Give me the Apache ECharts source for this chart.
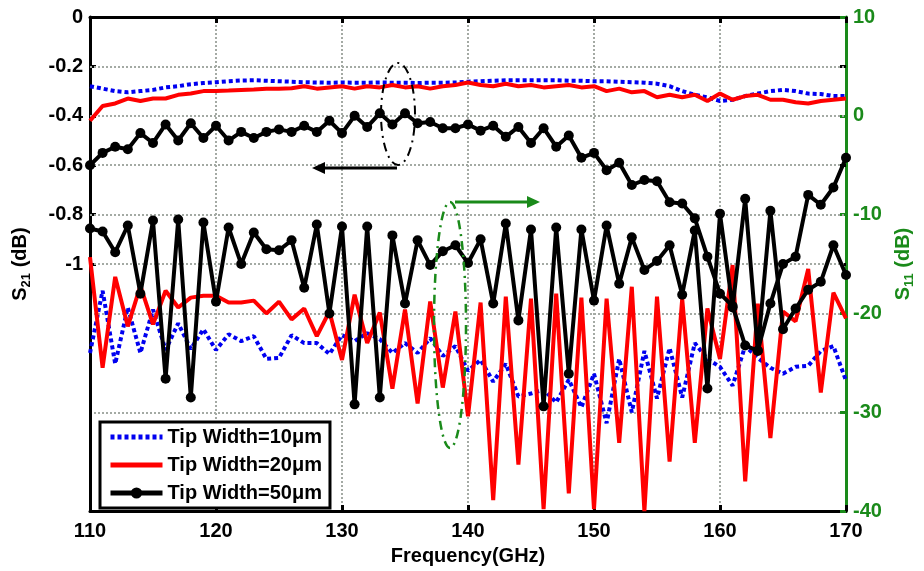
<!DOCTYPE html>
<html><head><meta charset="utf-8">
<script src="https://cdn.jsdelivr.net/npm/echarts@6/dist/echarts.min.js"></script>
<style>html,body{margin:0;padding:0;background:#fff}#c{width:924px;height:571px}</style>
</head><body><div id="c"></div>
<script>
// Frequency (GHz)
const freq = [110,111,112,113,114,115,116,117,118,119,120,121,122,123,124,125,126,127,128,129,130,
  131,132,133,134,135,136,137,138,139,140,141,142,143,144,145,146,147,148,149,150,
  151,152,153,154,155,156,157,158,159,160,161,162,163,164,165,166,167,168,169,170];

// S21 (dB), left axis
const s21_10 = [-0.28,-0.29,-0.30,-0.305,-0.30,-0.295,-0.285,-0.28,-0.272,-0.267,-0.264,-0.26,-0.257,-0.256,-0.258,-0.26,-0.262,-0.264,-0.265,-0.266,-0.265,
  -0.266,-0.266,-0.265,-0.266,-0.266,-0.267,-0.266,-0.266,-0.265,-0.262,-0.26,-0.258,-0.256,-0.256,-0.256,-0.256,-0.256,-0.258,-0.258,-0.26,
  -0.26,-0.262,-0.264,-0.266,-0.27,-0.28,-0.30,-0.315,-0.325,-0.34,-0.335,-0.32,-0.31,-0.30,-0.295,-0.30,-0.31,-0.312,-0.32,-0.32];
const s21_20 = [-0.42,-0.36,-0.35,-0.33,-0.34,-0.33,-0.33,-0.315,-0.31,-0.30,-0.30,-0.298,-0.295,-0.293,-0.29,-0.29,-0.288,-0.28,-0.29,-0.285,-0.28,
  -0.29,-0.28,-0.285,-0.275,-0.285,-0.28,-0.29,-0.28,-0.275,-0.265,-0.275,-0.28,-0.27,-0.28,-0.275,-0.285,-0.28,-0.275,-0.285,-0.28,
  -0.30,-0.29,-0.305,-0.30,-0.325,-0.315,-0.325,-0.315,-0.34,-0.31,-0.335,-0.32,-0.315,-0.335,-0.335,-0.345,-0.35,-0.34,-0.335,-0.33];
const s21_50 = [-0.60,-0.55,-0.525,-0.535,-0.47,-0.51,-0.435,-0.50,-0.43,-0.49,-0.44,-0.50,-0.465,-0.49,-0.465,-0.455,-0.465,-0.44,-0.465,-0.42,-0.47,
  -0.40,-0.445,-0.39,-0.435,-0.39,-0.43,-0.425,-0.45,-0.45,-0.435,-0.46,-0.44,-0.485,-0.445,-0.51,-0.45,-0.525,-0.48,-0.57,-0.55,
  -0.62,-0.59,-0.68,-0.66,-0.665,-0.75,-0.755,-0.815,-0.97,-1.12,-1.17,-1.33,-1.35,-1.16,-1.0,-0.97,-0.72,-0.76,-0.69,-0.57];

// S11 (dB), right axis
const s11_10 = [-24.0,-17.7,-25.1,-19.4,-24.0,-19.6,-23.7,-21.0,-23.6,-21.6,-23.7,-22.1,-22.8,-22.3,-24.6,-24.5,-22.2,-23.0,-23.0,-24.1,-22.2,
  -22.8,-22.0,-22.6,-24.0,-23.0,-24.0,-22.5,-24.3,-23.3,-25.8,-24.7,-26.9,-25.1,-28.4,-28.1,-27.7,-29.0,-26.7,-29.5,-26.1,
  -31.1,-24.6,-30.0,-23.8,-28.6,-23.5,-28.5,-23.0,-24.6,-25.4,-27.3,-23.3,-24.5,-25.5,-26.1,-25.4,-25.3,-23.8,-23.3,-26.8];
const s11_20 = [-14.3,-25.5,-16.3,-21.3,-17.2,-21.1,-17.7,-19.4,-18.4,-18.2,-18.2,-18.9,-18.9,-18.7,-20.0,-18.8,-20.6,-19.5,-22.3,-19.8,-24.7,
  -18.1,-23.0,-19.9,-27.6,-19.6,-29.1,-18.8,-27.5,-19.8,-30.4,-18.9,-38.9,-18.3,-35.3,-18.5,-39.8,-18.0,-38.2,-18.4,-39.8,
  -18.5,-33.1,-17.3,-40.0,-18.3,-35.0,-18.5,-33.1,-19.5,-24.6,-15.1,-37.0,-19.0,-32.6,-19.8,-20.8,-15.5,-28.0,-17.9,-20.5];
const s11_50 = [-11.4,-11.7,-13.8,-11.1,-18.0,-10.6,-26.6,-10.5,-28.5,-10.8,-18.8,-11.3,-15.0,-11.8,-13.5,-13.6,-12.6,-17.4,-11.0,-20.0,-11.2,
  -29.2,-11.2,-28.5,-12.1,-19.0,-12.6,-15.1,-13.7,-13.1,-14.9,-12.5,-19.0,-10.9,-20.7,-11.5,-29.4,-11.3,-26.1,-11.5,-18.7,
  -11.1,-17.0,-12.3,-15.6,-14.7,-13.1,-18.1,-11.6,-27.6,-9.9,-19.4,-8.4,-23.8,-9.6,-21.6,-19.5,-17.6,-16.8,-13.1,-16.1];

const names = ['Tip Width=10\u03bcm','Tip Width=20\u03bcm','Tip Width=50\u03bcm'];
const leftTicks = [0,-0.2,-0.4,-0.6,-0.8,-1];

const F = 'Liberation Sans, Arial, sans-serif';
const GREEN = '#1a8a1a';
const GRID = '#a4aaa4';
const FS = 20;
const zip = v => freq.map((f,i)=>[f,v[i]]);

const chart = echarts.init(document.getElementById('c'), null, {renderer:'canvas'});
const lbl = {fontFamily:F, fontWeight:'bold', fontSize:FS, color:'#000'};

function nameRich(color){
  return {
    s:{fontFamily:F, fontWeight:'bold', fontSize:FS, color:color, lineHeight:22, verticalAlign:'middle'},
    sub:{fontFamily:F, fontWeight:'bold', fontSize:13, color:color, verticalAlign:'bottom', padding:[12,0,0,0]}
  };
}

const blueLine = {color:'#0000f0', width:4, type:[4,3]};
const redLine = {color:'#ff0000', width:4};
const blackLine = {color:'#000', width:4};

chart.setOption({
  animation:false,
  backgroundColor:'#fff',
  grid:{left:90, right:73, top:17, bottom:54},
  legend:{
    left:100, top:422, orient:'vertical',
    itemWidth:52, itemHeight:14, itemGap:8,
    padding:[5,8,5,8],
    borderColor:'#000', borderWidth:3, backgroundColor:'#fff',
    textStyle:{fontFamily:F, fontWeight:'bold', fontSize:FS, color:'#000'},
    data:[
      {name:names[0], itemStyle:{opacity:0}, lineStyle:{width:5}},
      {name:names[1], itemStyle:{opacity:0}, lineStyle:{width:5}},
      {name:names[2], lineStyle:{width:5}}
    ]
  },
  xAxis:[{
    type:'value', min:110, max:170, interval:10, position:'bottom',
    axisLine:{onZero:false, lineStyle:{color:'#000', width:3}},
    axisTick:{inside:true, length:6, lineStyle:{color:'#000', width:3}},
    axisLabel:Object.assign({margin:10}, lbl),
    splitLine:{show:true, lineStyle:{color:GRID, type:'dotted', width:2}},
    name:'Frequency(GHz)', nameLocation:'middle', nameGap:32,
    nameTextStyle:{fontFamily:F, fontWeight:'bold', fontSize:FS, color:'#000'}
  },{
    type:'value', min:110, max:170, interval:10, position:'top',
    axisLine:{onZero:false, lineStyle:{color:'#000', width:3}},
    axisTick:{inside:true, length:6, lineStyle:{color:'#000', width:3}},
    axisLabel:{show:false}, splitLine:{show:false}
  }],
  yAxis:[{
    type:'value', min:-2, max:0, interval:0.2, position:'left',
    axisLine:{show:true, onZero:false, lineStyle:{color:'#000', width:3}},
    axisTick:{show:true, inside:true, length:6, customValues:leftTicks, lineStyle:{color:'#000', width:3}},
    axisLabel:Object.assign({margin:7, customValues:leftTicks}, lbl),
    splitLine:{show:false},
    name:'{s|S}{sub|21}{s| (dB)}', nameLocation:'middle', nameGap:57, nameRotate:90,
    nameTextStyle:{rich:nameRich('#000')}
  },{
    type:'value', min:-40, max:10, interval:10, position:'right',
    axisLine:{show:true, onZero:false, lineStyle:{color:GREEN, width:3}},
    axisTick:{show:true, inside:true, length:6, lineStyle:{color:GREEN, width:3}},
    axisLabel:Object.assign({}, lbl, {color:GREEN, margin:7}),
    splitLine:{show:true, lineStyle:{color:GRID, type:'dotted', width:2}},
    name:'{s|S}{sub|11}{s| (dB)}', nameLocation:'middle', nameGap:45, nameRotate:90,
    nameTextStyle:{rich:nameRich(GREEN)}
  },{
    type:'value', min:-2, max:0, position:'right',
    axisLine:{show:false, onZero:false},
    axisTick:{show:true, inside:true, length:6, customValues:[-0.2,-0.6,-1], lineStyle:{color:'#000', width:3}},
    axisLabel:{show:false}, splitLine:{show:false}
  }],
  series:[
    {name:names[0], type:'line', xAxisIndex:0, yAxisIndex:0, data:zip(s21_10), symbol:'none', color:'#0000f0', lineStyle:blueLine, z:2,
     markLine:{silent:true, symbol:'none', label:{show:false}, lineStyle:{color:GRID, type:'dotted', width:2},
       data:[{yAxis:-0.2},{yAxis:-0.4},{yAxis:-0.6},{yAxis:-0.8},{yAxis:-1}], z:1}},
    {name:names[0], type:'line', xAxisIndex:0, yAxisIndex:1, data:zip(s11_10), symbol:'none', color:'#0000f0', lineStyle:blueLine, z:2},
    {name:names[1], type:'line', xAxisIndex:0, yAxisIndex:0, data:zip(s21_20), symbol:'none', color:'#ff0000', lineStyle:redLine, z:3},
    {name:names[1], type:'line', xAxisIndex:0, yAxisIndex:1, data:zip(s11_20), symbol:'none', color:'#ff0000', lineStyle:redLine, z:3},
    {name:names[2], type:'line', xAxisIndex:0, yAxisIndex:0, data:zip(s21_50), symbol:'circle', symbolSize:10, showSymbol:true, color:'#000', itemStyle:{color:'#000'}, lineStyle:blackLine, z:4},
    {name:names[2], type:'line', xAxisIndex:0, yAxisIndex:1, data:zip(s11_50), symbol:'circle', symbolSize:10, showSymbol:true, color:'#000', itemStyle:{color:'#000'}, lineStyle:blackLine, z:4}
  ],
  graphic:[
    {type:'ellipse', z:100, shape:{cx:398, cy:114, rx:17, ry:51}, style:{fill:'none', stroke:'#000', lineWidth:2, lineDash:[9,5,2,5]}},
    {type:'line', z:100, shape:{x1:397, y1:168, x2:322, y2:168}, style:{stroke:'#000', lineWidth:3}},
    {type:'polygon', z:100, shape:{points:[[312,168],[325,162],[325,174]]}, style:{fill:'#000'}},
    {type:'ellipse', z:100, shape:{cx:450, cy:325, rx:16, ry:123}, style:{fill:'none', stroke:GREEN, lineWidth:2.5, lineDash:[9,5,2,5]}},
    {type:'line', z:100, shape:{x1:455, y1:202, x2:528, y2:202}, style:{stroke:GREEN, lineWidth:3}},
    {type:'polygon', z:100, shape:{points:[[540,202],[527,196],[527,208]]}, style:{fill:GREEN}}
  ]
});
</script></body></html>
